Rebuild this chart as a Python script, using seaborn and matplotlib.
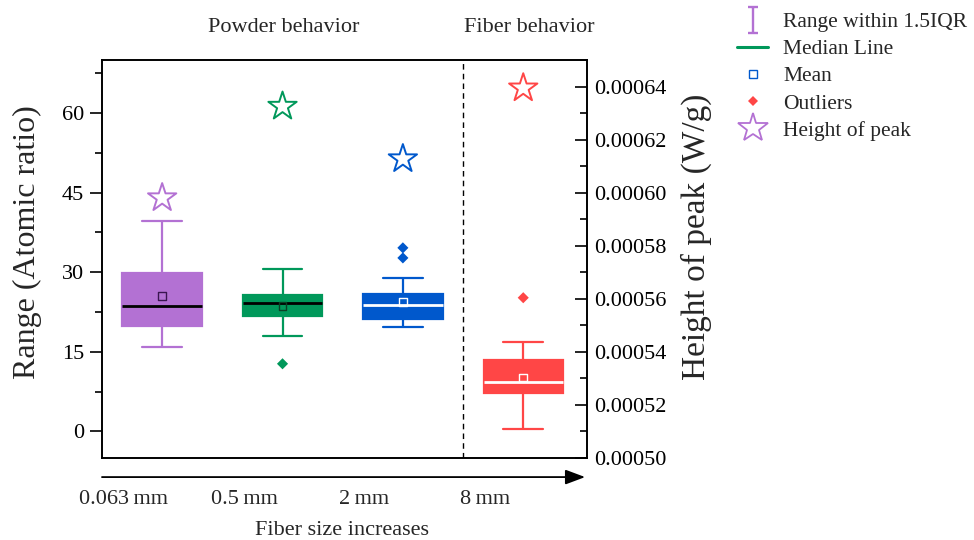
import numpy as np
import pandas as pd
import matplotlib
matplotlib.use("Agg")
import matplotlib.pyplot as plt
from matplotlib.lines import Line2D
from matplotlib.path import Path
from matplotlib.ticker import MultipleLocator, FormatStrFormatter
import seaborn as sns

# ---------------- data ----------------
sizes = ["0.063\u2009mm", "0.5\u2009mm", "2\u2009mm", "8\u2009mm"]
whisker_low = [15.9, 18.0, 19.6, 0.4]
q1 = [19.9, 21.75, 21.25, 7.25]
median = [23.6, 24.2, 23.8, 9.3]
q3 = [29.8, 25.7, 25.9, 13.4]
whisker_high = [39.7, 30.6, 29.0, 16.9]
means = [25.5, 23.6, 24.4, 10.2]
outlier_group = [1, 2, 2, 3]
outlier_values = [12.75, 34.6, 32.7, 25.2]
peak_height = [0.000598, 0.0006325, 0.0006127, 0.0006394]

colors = ["#B371D3", "#00985A", "#0058CC", "#FF4646"]
median_colors = ["black", "black", "white", "white"]
mean_edge = ["#3a1650", "#0a3f25", "white", "white"]
legend_labels = ["Range within 1.5IQR", "Median Line", "Mean", "Outliers", "Height of peak"]

# ---------------- style ----------------
sns.set_theme(style="ticks")
plt.rcParams["font.family"] = ["Liberation Serif", "DejaVu Serif"]
plt.rcParams["axes.edgecolor"] = "black"
plt.rcParams["axes.linewidth"] = 1.2
plt.rcParams["xtick.color"] = "black"
plt.rcParams["ytick.color"] = "black"

fig = plt.figure(figsize=(9.74, 5.4), dpi=100)
ax = fig.add_axes([0.1047, 0.1519, 0.498, 0.737])

rows = []
for i, s in enumerate(sizes):
    for v in (whisker_low[i], q1[i], median[i], q3[i], whisker_high[i]):
        rows.append({"pos": i, "size": s, "value": v})
df = pd.DataFrame(rows)

for i in range(len(sizes)):
    sns.boxplot(data=df[df["pos"] == i], x="pos", y="value", orient="x",
                native_scale=True, color=colors[i], linecolor=colors[i],
                saturation=1, width=0.66, whis=(0, 100), showfliers=False,
                linewidth=1.6,
                medianprops={"color": median_colors[i], "linewidth": 2.0},
                ax=ax)

# means
for i in range(len(sizes)):
    sns.scatterplot(x=[i], y=[means[i]], marker="s", s=30,
                    facecolor="none", edgecolor=mean_edge[i], linewidth=1.0,
                    ax=ax, zorder=5)

# outliers
for g, v in zip(outlier_group, outlier_values):
    sns.scatterplot(x=[g], y=[v], marker="D", s=32, color=colors[g],
                    edgecolor="none", linewidth=0, ax=ax, zorder=5)

ax.axvline(2.5, color="black", lw=1.0, ls=(0, (4, 3)))

ax.set_ylim(-5, 70)
ax.set_xlim(-0.5, 3.53)
ax.yaxis.set_major_locator(MultipleLocator(15))
ax.yaxis.set_minor_locator(MultipleLocator(7.5))
ax.tick_params(axis="y", which="major", direction="out", length=9, width=1.2,
               labelsize=16, pad=4)
ax.tick_params(axis="y", which="minor", direction="out", length=5, width=1.2)
ax.tick_params(axis="x", which="both", bottom=False, labelbottom=False)
ax.set_xlabel("")
ax.set_ylabel("Range (Atomic ratio)", fontsize=23)
ax.yaxis.set_label_coords(-0.124, 0.543)
for sp in ax.spines.values():
    sp.set_visible(True)
    sp.set_linewidth(1.2)

# right axis: height of peak
ax2 = ax.twinx()
for i in range(len(sizes)):
    sns.scatterplot(x=[i], y=[peak_height[i]], marker="*", s=460,
                    facecolor="none", edgecolor=colors[i], linewidth=1.4,
                    ax=ax2, zorder=5)
ax2.set_ylim(0.0005, 0.00065)
ax2.set_xlim(-0.5, 3.53)
ax2.yaxis.set_major_locator(MultipleLocator(0.00002))
ax2.yaxis.set_minor_locator(MultipleLocator(0.00001))
ax2.yaxis.set_major_formatter(FormatStrFormatter("%.5f"))
ax2.tick_params(axis="y", which="major", direction="in", length=9, width=1.2,
                labelsize=16, pad=5)
ax2.tick_params(axis="y", which="minor", direction="in", length=5, width=1.2)
ax2.tick_params(axis="x", which="both", bottom=False, labelbottom=False)
ax2.set_ylabel("Height of peak (W/g)", fontsize=24)
ax2.yaxis.set_label_coords(1.193, 0.555)
for sp in ax2.spines.values():
    sp.set_linewidth(1.2)

# bottom annotations
ax.annotate("", xy=(0.996, -0.048), xytext=(0.0, -0.048), xycoords="axes fraction",
            textcoords="axes fraction", annotation_clip=False,
            arrowprops=dict(arrowstyle="-|>,head_length=0.8,head_width=0.3",
                            color="black", lw=1.3, mutation_scale=15,
                            shrinkA=0, shrinkB=0))
for i, s in enumerate(sizes):
    ax.text(i - 0.32, -0.104, s, transform=ax.get_xaxis_transform(),
            ha="center", va="center", fontsize=16, clip_on=False)
ax.text(0.495, -0.183, "Fiber size increases", transform=ax.transAxes,
        ha="center", va="center", fontsize=16)

fig.text(284 / 974, 1 - 27 / 540, "Powder behavior", ha="center", va="center", fontsize=16)
fig.text(529 / 974, 1 - 27 / 540, "Fiber behavior", ha="center", va="center", fontsize=16)

# legend
ibeam = Path([(-0.4, 1), (0.4, 1), (0, 1), (0, -1), (-0.4, -1), (0.4, -1)],
             [Path.MOVETO, Path.LINETO, Path.MOVETO, Path.LINETO, Path.MOVETO, Path.LINETO])
handles = [
    Line2D([], [], marker=ibeam, ls="none", markersize=19, markerfacecolor="none",
           markeredgecolor=colors[0], markeredgewidth=1.7),
    Line2D([], [], color=colors[1], lw=2.2),
    Line2D([], [], marker="s", ls="none", markersize=5.5, markerfacecolor="none",
           markeredgecolor=colors[2], markeredgewidth=1.0),
    Line2D([], [], marker="D", ls="none", markersize=5.5, color=colors[3],
           markeredgewidth=0),
    Line2D([], [], marker="*", ls="none", markersize=22, markerfacecolor="none",
           markeredgecolor=colors[0], markeredgewidth=1.3),
]
fig.legend(handles, legend_labels, loc="upper left", bbox_to_anchor=(737 / 974, 1 - 12 / 540),
           frameon=False, fontsize=15.5, handlelength=1.44, handletextpad=0.7,
           labelspacing=0.33, borderpad=0, borderaxespad=0)

fig.savefig("out.png", dpi=100)
